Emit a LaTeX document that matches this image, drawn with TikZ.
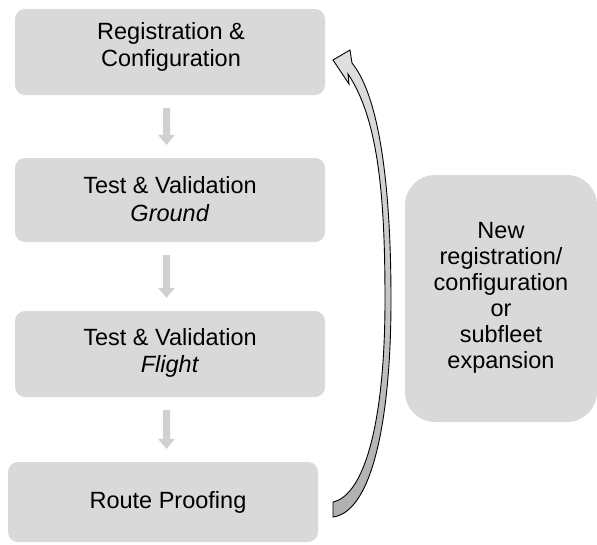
\documentclass[tikz,border=0pt]{standalone}
\usepackage{fontspec}
\setmainfont{Liberation Sans}
\usetikzlibrary{calc}

\definecolor{boxgrey}{HTML}{D9D9D9}
\definecolor{arrowgrey}{HTML}{D0D0D0}
\definecolor{loophi}{HTML}{E0E0E0}
\definecolor{looplo}{HTML}{AFAFAF}

\tikzset{
  stagebox/.style={fill=boxgrey, rounded corners=10pt, minimum width=310pt,
    inner sep=0pt, draw=none},
  stagetext/.style={align=center, inner sep=0pt,
    font=\fontsize{23.5}{27.5}\selectfont},
  sidetext/.style={align=center, inner sep=0pt,
    font=\fontsize{23.5}{26}\selectfont},
  sidebox/.style={fill=boxgrey, rounded corners=30pt, minimum width=192pt,
    minimum height=247pt, inner sep=0pt, draw=none},
  flowarrow/.style={fill=arrowgrey, draw=none},
  looparrow/.style={draw=black, line width=0.9pt, line join=miter,
    top color=loophi, bottom color=looplo}
}

% block arrow from the bottom of one stage to the top of the next
\newcommand\stagearrow[2]{%
  \fill[flowarrow]
    ($(#1.south)+(-7,13)$) -- ($(#1.south)+(0,13)$)
    -- ($(#1.south |- #2.north)+(0,-23)$)
    -- ($(#1.south |- #2.north)+(5,-23)$)
    -- ($(#1.south |- #2.north)+(-3.5,-13)$)
    -- ($(#1.south |- #2.north)+(-12,-23)$)
    -- ($(#1.south |- #2.north)+(-7,-23)$) -- cycle;}

\begin{document}
\begin{tikzpicture}[x=1pt, y=-1pt]
  \useasboundingbox (0,0) rectangle (597,544);

  % process stages
  \node[stagebox, minimum height=86pt] (b1) at (170,52) {};
  \node[stagebox, minimum height=84pt] (b2) at (170,200) {};
  \node[stagebox, minimum height=86pt] (b3) at (170,354) {};
  \node[stagebox, minimum height=80pt] (b4) at (163,502) {};

  \node[stagetext] (t1) at ($(b1.center)+(1,-5)$) {Registration \&\\Configuration};
  \node[stagetext] (t2) at ($(b2.center)+(0,-1)$) {Test \& Validation\\\textit{Ground}};
  \node[stagetext] (t3) at ($(b3.center)+(0,-1)$) {Test \& Validation\\\textit{Flight}};
  \node[stagetext] (t4) at ($(b4.center)+(5,0)$) {Route Proofing};

  % side note
  \node[sidebox] (side) at (501,298.5) {};
  \node[sidetext] (ts) at ($(side.center)+(0,-1)$)
    {New\\registration/\\configuration\\or\\subfleet\\expansion};

  % arrows between stages
  \stagearrow{b1}{b2}
  \stagearrow{b2}{b3}
  \stagearrow{b3}{b4}

  % loop back from the last stage to the first
  \path[looparrow]
    (333,502) -- (333,517)
    .. controls (372,512) and (391,420) .. (391,300)
    .. controls (391,200) and (382,100) .. (352,63)
    -- (350,50) -- (333,60) -- (349,84) -- (348,74)
    .. controls (379,120) and (385,200) .. (385,300)
    .. controls (385,420) and (365,495) .. (333,502) -- cycle;
\end{tikzpicture}
\end{document}
